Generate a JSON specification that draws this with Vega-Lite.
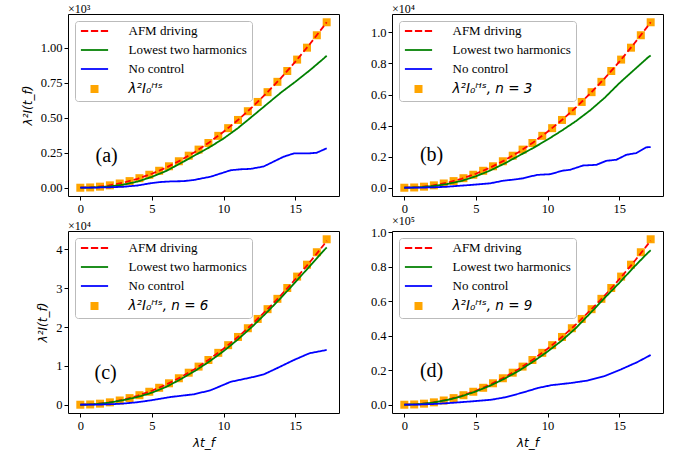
{
 "$schema": "https://vega.github.io/schema/vega-lite/v6.json",
 "background": "white",
 "padding": {"left": 20, "top": 2, "right": 5, "bottom": 5},
 "bounds": "flush",
 "columns": 2,
 "spacing": {"row": 35, "column": 53},
 "resolve": {"scale": {"color": "independent", "shape": "independent", "strokeDash": "independent"}, "legend": {"color": "independent", "shape": "independent", "strokeDash": "independent"}},
 "datasets": {
  "d": [
   {"p":"a","s":"HS","t":0,"v":0},{"p":"a","s":"HS","t":0.688,"v":1.89},{"p":"a","s":"HS","t":1.376,"v":7.57},{"p":"a","s":"HS","t":2.064,"v":17.04},{"p":"a","s":"HS","t":2.752,"v":30.29},{"p":"a","s":"HS","t":3.44,"v":47.33},{"p":"a","s":"HS","t":4.128,"v":68.16},{"p":"a","s":"HS","t":4.816,"v":92.78},{"p":"a","s":"HS","t":5.504,"v":121.18},{"p":"a","s":"HS","t":6.192,"v":153.36},{"p":"a","s":"HS","t":6.88,"v":189.34},{"p":"a","s":"HS","t":7.568,"v":229.1},{"p":"a","s":"HS","t":8.256,"v":272.65},{"p":"a","s":"HS","t":8.944,"v":319.98},{"p":"a","s":"HS","t":9.632,"v":371.1},{"p":"a","s":"HS","t":10.32,"v":426.01},{"p":"a","s":"HS","t":11.008,"v":484.7},{"p":"a","s":"HS","t":11.696,"v":547.19},{"p":"a","s":"HS","t":12.384,"v":613.45},{"p":"a","s":"HS","t":13.072,"v":683.51},{"p":"a","s":"HS","t":13.76,"v":757.35},{"p":"a","s":"HS","t":14.448,"v":834.98},{"p":"a","s":"HS","t":15.136,"v":916.39},{"p":"a","s":"HS","t":15.824,"v":1001.6},{"p":"a","s":"HS","t":16.512,"v":1090.58},{"p":"a","s":"HS","t":17.2,"v":1183.36},
   {"p":"a","s":"AFM driving","t":0,"v":0},{"p":"a","s":"AFM driving","t":1,"v":4},{"p":"a","s":"AFM driving","t":2,"v":16},{"p":"a","s":"AFM driving","t":3,"v":36},{"p":"a","s":"AFM driving","t":4,"v":64},{"p":"a","s":"AFM driving","t":5,"v":100},{"p":"a","s":"AFM driving","t":6,"v":144},{"p":"a","s":"AFM driving","t":7,"v":196},{"p":"a","s":"AFM driving","t":8,"v":256},{"p":"a","s":"AFM driving","t":9,"v":324},{"p":"a","s":"AFM driving","t":10,"v":400},{"p":"a","s":"AFM driving","t":11,"v":484},{"p":"a","s":"AFM driving","t":12,"v":576},{"p":"a","s":"AFM driving","t":13,"v":676},{"p":"a","s":"AFM driving","t":14,"v":784},{"p":"a","s":"AFM driving","t":15,"v":900},{"p":"a","s":"AFM driving","t":16,"v":1024},{"p":"a","s":"AFM driving","t":17,"v":1156},{"p":"a","s":"AFM driving","t":17.2,"v":1183.4},
   {"p":"a","s":"Lowest two harmonics","t":0,"v":0},{"p":"a","s":"Lowest two harmonics","t":1,"v":2},{"p":"a","s":"Lowest two harmonics","t":2,"v":9},{"p":"a","s":"Lowest two harmonics","t":3,"v":22},{"p":"a","s":"Lowest two harmonics","t":4,"v":44},{"p":"a","s":"Lowest two harmonics","t":5,"v":78},{"p":"a","s":"Lowest two harmonics","t":6,"v":120},{"p":"a","s":"Lowest two harmonics","t":7,"v":175},{"p":"a","s":"Lowest two harmonics","t":8,"v":232},{"p":"a","s":"Lowest two harmonics","t":9,"v":288},{"p":"a","s":"Lowest two harmonics","t":10,"v":352},{"p":"a","s":"Lowest two harmonics","t":11,"v":426},{"p":"a","s":"Lowest two harmonics","t":12,"v":510},{"p":"a","s":"Lowest two harmonics","t":13,"v":595},{"p":"a","s":"Lowest two harmonics","t":14,"v":680},{"p":"a","s":"Lowest two harmonics","t":15,"v":757},{"p":"a","s":"Lowest two harmonics","t":16,"v":838},{"p":"a","s":"Lowest two harmonics","t":17,"v":925},{"p":"a","s":"Lowest two harmonics","t":17.2,"v":944},
   {"p":"a","s":"No control","t":0,"v":0},{"p":"a","s":"No control","t":1,"v":1},{"p":"a","s":"No control","t":2,"v":3},{"p":"a","s":"No control","t":3,"v":7},{"p":"a","s":"No control","t":4,"v":16},{"p":"a","s":"No control","t":4.9,"v":32},{"p":"a","s":"No control","t":5.5,"v":40},{"p":"a","s":"No control","t":6.3,"v":45},{"p":"a","s":"No control","t":7.2,"v":47},{"p":"a","s":"No control","t":7.9,"v":55},{"p":"a","s":"No control","t":9.1,"v":79},{"p":"a","s":"No control","t":10.5,"v":125},{"p":"a","s":"No control","t":11.2,"v":132},{"p":"a","s":"No control","t":11.9,"v":135},{"p":"a","s":"No control","t":12.8,"v":152},{"p":"a","s":"No control","t":14.2,"v":222},{"p":"a","s":"No control","t":14.9,"v":245},{"p":"a","s":"No control","t":16.0,"v":246},{"p":"a","s":"No control","t":16.5,"v":250},{"p":"a","s":"No control","t":17.2,"v":282},

   {"p":"b","s":"HS","t":0,"v":0},{"p":"b","s":"HS","t":0.688,"v":17.0},{"p":"b","s":"HS","t":1.376,"v":68.2},{"p":"b","s":"HS","t":2.064,"v":153.4},{"p":"b","s":"HS","t":2.752,"v":272.6},{"p":"b","s":"HS","t":3.44,"v":426.0},{"p":"b","s":"HS","t":4.128,"v":613.5},{"p":"b","s":"HS","t":4.816,"v":835.0},{"p":"b","s":"HS","t":5.504,"v":1090.6},{"p":"b","s":"HS","t":6.192,"v":1380.3},{"p":"b","s":"HS","t":6.88,"v":1704.0},{"p":"b","s":"HS","t":7.568,"v":2061.9},{"p":"b","s":"HS","t":8.256,"v":2453.8},{"p":"b","s":"HS","t":8.944,"v":2879.8},{"p":"b","s":"HS","t":9.632,"v":3339.9},{"p":"b","s":"HS","t":10.32,"v":3834.1},{"p":"b","s":"HS","t":11.008,"v":4362.3},{"p":"b","s":"HS","t":11.696,"v":4924.7},{"p":"b","s":"HS","t":12.384,"v":5521.1},{"p":"b","s":"HS","t":13.072,"v":6151.6},{"p":"b","s":"HS","t":13.76,"v":6816.2},{"p":"b","s":"HS","t":14.448,"v":7514.8},{"p":"b","s":"HS","t":15.136,"v":8247.5},{"p":"b","s":"HS","t":15.824,"v":9014.4},{"p":"b","s":"HS","t":16.512,"v":9815.3},{"p":"b","s":"HS","t":17.2,"v":10650.2},
   {"p":"b","s":"AFM driving","t":0,"v":0},{"p":"b","s":"AFM driving","t":1,"v":36},{"p":"b","s":"AFM driving","t":2,"v":144},{"p":"b","s":"AFM driving","t":3,"v":324},{"p":"b","s":"AFM driving","t":4,"v":576},{"p":"b","s":"AFM driving","t":5,"v":900},{"p":"b","s":"AFM driving","t":6,"v":1296},{"p":"b","s":"AFM driving","t":7,"v":1764},{"p":"b","s":"AFM driving","t":8,"v":2304},{"p":"b","s":"AFM driving","t":9,"v":2916},{"p":"b","s":"AFM driving","t":10,"v":3600},{"p":"b","s":"AFM driving","t":11,"v":4356},{"p":"b","s":"AFM driving","t":12,"v":5184},{"p":"b","s":"AFM driving","t":13,"v":6084},{"p":"b","s":"AFM driving","t":14,"v":7056},{"p":"b","s":"AFM driving","t":15,"v":8100},{"p":"b","s":"AFM driving","t":16,"v":9216},{"p":"b","s":"AFM driving","t":17,"v":10404},{"p":"b","s":"AFM driving","t":17.2,"v":10650},
   {"p":"b","s":"Lowest two harmonics","t":0,"v":0},{"p":"b","s":"Lowest two harmonics","t":1,"v":25},{"p":"b","s":"Lowest two harmonics","t":2,"v":105},{"p":"b","s":"Lowest two harmonics","t":3,"v":240},{"p":"b","s":"Lowest two harmonics","t":4,"v":440},{"p":"b","s":"Lowest two harmonics","t":5,"v":740},{"p":"b","s":"Lowest two harmonics","t":6,"v":1110},{"p":"b","s":"Lowest two harmonics","t":7,"v":1560},{"p":"b","s":"Lowest two harmonics","t":8,"v":2060},{"p":"b","s":"Lowest two harmonics","t":9,"v":2560},{"p":"b","s":"Lowest two harmonics","t":10,"v":3100},{"p":"b","s":"Lowest two harmonics","t":11,"v":3680},{"p":"b","s":"Lowest two harmonics","t":12,"v":4300},{"p":"b","s":"Lowest two harmonics","t":13,"v":5000},{"p":"b","s":"Lowest two harmonics","t":14,"v":5800},{"p":"b","s":"Lowest two harmonics","t":15,"v":6720},{"p":"b","s":"Lowest two harmonics","t":16,"v":7550},{"p":"b","s":"Lowest two harmonics","t":17,"v":8380},{"p":"b","s":"Lowest two harmonics","t":17.2,"v":8510},
   {"p":"b","s":"No control","t":0,"v":0},{"p":"b","s":"No control","t":1,"v":5},{"p":"b","s":"No control","t":2,"v":25},{"p":"b","s":"No control","t":3,"v":65},{"p":"b","s":"No control","t":3.6,"v":110},{"p":"b","s":"No control","t":4.6,"v":175},{"p":"b","s":"No control","t":6.0,"v":284},{"p":"b","s":"No control","t":6.93,"v":455},{"p":"b","s":"No control","t":7.6,"v":520},{"p":"b","s":"No control","t":8.32,"v":610},{"p":"b","s":"No control","t":9.25,"v":825},{"p":"b","s":"No control","t":10.17,"v":870},{"p":"b","s":"No control","t":11.09,"v":1105},{"p":"b","s":"No control","t":11.56,"v":1150},{"p":"b","s":"No control","t":12.48,"v":1430},{"p":"b","s":"No control","t":13.41,"v":1475},{"p":"b","s":"No control","t":14.11,"v":1735},{"p":"b","s":"No control","t":14.8,"v":1800},{"p":"b","s":"No control","t":15.5,"v":2120},{"p":"b","s":"No control","t":16.19,"v":2230},{"p":"b","s":"No control","t":16.88,"v":2600},{"p":"b","s":"No control","t":17.2,"v":2620},

   {"p":"c","s":"HS","t":0,"v":0},{"p":"c","s":"HS","t":0.688,"v":68.2},{"p":"c","s":"HS","t":1.376,"v":272.7},{"p":"c","s":"HS","t":2.064,"v":613.5},{"p":"c","s":"HS","t":2.752,"v":1090.6},{"p":"c","s":"HS","t":3.44,"v":1704.0},{"p":"c","s":"HS","t":4.128,"v":2453.8},{"p":"c","s":"HS","t":4.816,"v":3339.9},{"p":"c","s":"HS","t":5.504,"v":4362.3},{"p":"c","s":"HS","t":6.192,"v":5521.1},{"p":"c","s":"HS","t":6.88,"v":6816.2},{"p":"c","s":"HS","t":7.568,"v":8247.5},{"p":"c","s":"HS","t":8.256,"v":9815.3},{"p":"c","s":"HS","t":8.944,"v":11519.3},{"p":"c","s":"HS","t":9.632,"v":13359.7},{"p":"c","s":"HS","t":10.32,"v":15336.3},{"p":"c","s":"HS","t":11.008,"v":17449.4},{"p":"c","s":"HS","t":11.696,"v":19698.7},{"p":"c","s":"HS","t":12.384,"v":22084.3},{"p":"c","s":"HS","t":13.072,"v":24606.3},{"p":"c","s":"HS","t":13.76,"v":27264.6},{"p":"c","s":"HS","t":14.448,"v":30059.2},{"p":"c","s":"HS","t":15.136,"v":32990.2},{"p":"c","s":"HS","t":15.824,"v":36057.5},{"p":"c","s":"HS","t":16.512,"v":39261.0},{"p":"c","s":"HS","t":17.2,"v":42601.0},
   {"p":"c","s":"AFM driving","t":0,"v":0},{"p":"c","s":"AFM driving","t":1,"v":144},{"p":"c","s":"AFM driving","t":2,"v":576},{"p":"c","s":"AFM driving","t":3,"v":1296},{"p":"c","s":"AFM driving","t":4,"v":2304},{"p":"c","s":"AFM driving","t":5,"v":3600},{"p":"c","s":"AFM driving","t":6,"v":5184},{"p":"c","s":"AFM driving","t":7,"v":7056},{"p":"c","s":"AFM driving","t":8,"v":9216},{"p":"c","s":"AFM driving","t":9,"v":11664},{"p":"c","s":"AFM driving","t":10,"v":14400},{"p":"c","s":"AFM driving","t":11,"v":17424},{"p":"c","s":"AFM driving","t":12,"v":20736},{"p":"c","s":"AFM driving","t":13,"v":24336},{"p":"c","s":"AFM driving","t":14,"v":28150},{"p":"c","s":"AFM driving","t":15,"v":32250},{"p":"c","s":"AFM driving","t":16,"v":36600},{"p":"c","s":"AFM driving","t":17,"v":41200},{"p":"c","s":"AFM driving","t":17.2,"v":42200},
   {"p":"c","s":"Lowest two harmonics","t":0,"v":0},{"p":"c","s":"Lowest two harmonics","t":1,"v":120},{"p":"c","s":"Lowest two harmonics","t":2,"v":520},{"p":"c","s":"Lowest two harmonics","t":3,"v":1180},{"p":"c","s":"Lowest two harmonics","t":4,"v":2000},{"p":"c","s":"Lowest two harmonics","t":5,"v":3100},{"p":"c","s":"Lowest two harmonics","t":6,"v":4600},{"p":"c","s":"Lowest two harmonics","t":7,"v":6550},{"p":"c","s":"Lowest two harmonics","t":8,"v":8700},{"p":"c","s":"Lowest two harmonics","t":9,"v":11100},{"p":"c","s":"Lowest two harmonics","t":10,"v":13800},{"p":"c","s":"Lowest two harmonics","t":11,"v":16800},{"p":"c","s":"Lowest two harmonics","t":12,"v":20100},{"p":"c","s":"Lowest two harmonics","t":13,"v":23700},{"p":"c","s":"Lowest two harmonics","t":14,"v":27500},{"p":"c","s":"Lowest two harmonics","t":15,"v":31500},{"p":"c","s":"Lowest two harmonics","t":16,"v":35600},{"p":"c","s":"Lowest two harmonics","t":17,"v":39700},{"p":"c","s":"Lowest two harmonics","t":17.2,"v":40500},
   {"p":"c","s":"No control","t":0,"v":0},{"p":"c","s":"No control","t":1,"v":20},{"p":"c","s":"No control","t":2,"v":100},{"p":"c","s":"No control","t":3,"v":300},{"p":"c","s":"No control","t":4,"v":650},{"p":"c","s":"No control","t":4.94,"v":1140},{"p":"c","s":"No control","t":6.33,"v":2000},{"p":"c","s":"No control","t":7.95,"v":2700},{"p":"c","s":"No control","t":9.1,"v":3730},{"p":"c","s":"No control","t":10.5,"v":5900},{"p":"c","s":"No control","t":11.9,"v":7000},{"p":"c","s":"No control","t":12.8,"v":7800},{"p":"c","s":"No control","t":13.7,"v":9350},{"p":"c","s":"No control","t":14.9,"v":11500},{"p":"c","s":"No control","t":16.0,"v":13250},{"p":"c","s":"No control","t":17.2,"v":14100},

   {"p":"d","s":"HS","t":0,"v":0},{"p":"d","s":"HS","t":0.688,"v":153.4},{"p":"d","s":"HS","t":1.376,"v":613.5},{"p":"d","s":"HS","t":2.064,"v":1380.3},{"p":"d","s":"HS","t":2.752,"v":2453.8},{"p":"d","s":"HS","t":3.44,"v":3834.1},{"p":"d","s":"HS","t":4.128,"v":5521.1},{"p":"d","s":"HS","t":4.816,"v":7514.8},{"p":"d","s":"HS","t":5.504,"v":9815.3},{"p":"d","s":"HS","t":6.192,"v":12422.5},{"p":"d","s":"HS","t":6.88,"v":15336.3},{"p":"d","s":"HS","t":7.568,"v":18556.9},{"p":"d","s":"HS","t":8.256,"v":22084.3},{"p":"d","s":"HS","t":8.944,"v":25918.4},{"p":"d","s":"HS","t":9.632,"v":30059.2},{"p":"d","s":"HS","t":10.32,"v":34506.8},{"p":"d","s":"HS","t":11.008,"v":39261.1},{"p":"d","s":"HS","t":11.696,"v":44322.0},{"p":"d","s":"HS","t":12.384,"v":49689.8},{"p":"d","s":"HS","t":13.072,"v":55364.2},{"p":"d","s":"HS","t":13.76,"v":61345.4},{"p":"d","s":"HS","t":14.448,"v":67633.3},{"p":"d","s":"HS","t":15.136,"v":74227.9},{"p":"d","s":"HS","t":15.824,"v":81129.3},{"p":"d","s":"HS","t":16.512,"v":88337.3},{"p":"d","s":"HS","t":17.2,"v":95852.2},
   {"p":"d","s":"AFM driving","t":0,"v":0},{"p":"d","s":"AFM driving","t":1,"v":324},{"p":"d","s":"AFM driving","t":2,"v":1296},{"p":"d","s":"AFM driving","t":3,"v":2916},{"p":"d","s":"AFM driving","t":4,"v":5184},{"p":"d","s":"AFM driving","t":5,"v":8100},{"p":"d","s":"AFM driving","t":6,"v":11664},{"p":"d","s":"AFM driving","t":7,"v":15876},{"p":"d","s":"AFM driving","t":8,"v":20736},{"p":"d","s":"AFM driving","t":9,"v":26244},{"p":"d","s":"AFM driving","t":10,"v":32400},{"p":"d","s":"AFM driving","t":11,"v":39204},{"p":"d","s":"AFM driving","t":12,"v":46656},{"p":"d","s":"AFM driving","t":13,"v":54756},{"p":"d","s":"AFM driving","t":14,"v":63300},{"p":"d","s":"AFM driving","t":15,"v":72600},{"p":"d","s":"AFM driving","t":16,"v":82400},{"p":"d","s":"AFM driving","t":17,"v":92900},{"p":"d","s":"AFM driving","t":17.2,"v":95000},
   {"p":"d","s":"Lowest two harmonics","t":0,"v":0},{"p":"d","s":"Lowest two harmonics","t":1,"v":300},{"p":"d","s":"Lowest two harmonics","t":2,"v":1230},{"p":"d","s":"Lowest two harmonics","t":3,"v":2770},{"p":"d","s":"Lowest two harmonics","t":4,"v":4920},{"p":"d","s":"Lowest two harmonics","t":5,"v":7700},{"p":"d","s":"Lowest two harmonics","t":6,"v":11100},{"p":"d","s":"Lowest two harmonics","t":7,"v":15100},{"p":"d","s":"Lowest two harmonics","t":8,"v":19700},{"p":"d","s":"Lowest two harmonics","t":9,"v":25000},{"p":"d","s":"Lowest two harmonics","t":10,"v":30800},{"p":"d","s":"Lowest two harmonics","t":11,"v":37200},{"p":"d","s":"Lowest two harmonics","t":12,"v":44600},{"p":"d","s":"Lowest two harmonics","t":13,"v":53200},{"p":"d","s":"Lowest two harmonics","t":14,"v":62000},{"p":"d","s":"Lowest two harmonics","t":15,"v":70500},{"p":"d","s":"Lowest two harmonics","t":16,"v":79500},{"p":"d","s":"Lowest two harmonics","t":17,"v":88000},{"p":"d","s":"Lowest two harmonics","t":17.2,"v":89500},
   {"p":"d","s":"No control","t":0,"v":0},{"p":"d","s":"No control","t":1,"v":100},{"p":"d","s":"No control","t":2,"v":400},{"p":"d","s":"No control","t":3,"v":900},{"p":"d","s":"No control","t":4,"v":1500},{"p":"d","s":"No control","t":4.69,"v":1930},{"p":"d","s":"No control","t":6.08,"v":2900},{"p":"d","s":"No control","t":7.01,"v":4260},{"p":"d","s":"No control","t":8.17,"v":6800},{"p":"d","s":"No control","t":9.33,"v":9700},{"p":"d","s":"No control","t":10.25,"v":11300},{"p":"d","s":"No control","t":11.64,"v":12600},{"p":"d","s":"No control","t":12.8,"v":14000},{"p":"d","s":"No control","t":13.95,"v":16500},{"p":"d","s":"No control","t":15.11,"v":20400},{"p":"d","s":"No control","t":16.27,"v":24700},{"p":"d","s":"No control","t":17.2,"v":28800}
  ]
 },
 "data": {"name": "d"},
 "concat": [
  {
   "width": 271, "height": 182,
   "title": {"text": "×10³"},
   "transform": [{"filter": "datum.p == 'a'"}],
   "layer": [
    {"transform": [{"filter": "datum.s == 'HS'"}],
     "mark": {"type": "point", "filled": true, "opacity": 1, "size": 64, "strokeWidth": 0},
     "encoding": {
      "x": {"field": "t", "type": "quantitative", "scale": {"domain": [-0.86, 18.06], "nice": false, "zero": false}, "axis": {"values": [0, 5, 10, 15], "tickCount": 10, "title": null}},
      "y": {"field": "v", "type": "quantitative", "scale": {"domain": [-59.2, 1242.5], "nice": false, "zero": false}, "axis": {"values": [0, 250, 500, 750, 1000], "tickCount": 10, "labelExpr": "format(datum.value/1000, '.2f')", "title": "λ²I(t_f)"}},
      "color": {"field": "s", "type": "nominal", "scale": {"domain": ["AFM driving", "Lowest two harmonics", "No control", "HS"], "range": ["#ff0000", "#008000", "#0000ff", "#ffa500"]},
       "legend": {"title": null, "orient": "top-left", "labelExpr": "datum.label == 'HS' ? 'λ²I₀ᴴˢ' : datum.label", "encoding": {"labels": {"font": {"condition": {"test": "datum.value == 'HS'", "value": "DejaVu Sans"}, "value": "Liberation Serif"}, "fontStyle": {"condition": {"test": "datum.value == 'HS'", "value": "italic"}, "value": "normal"}, "fontSize": {"condition": {"test": "datum.value == 'HS'", "value": 13.5}, "value": 13}}}}},
      "shape": {"field": "s", "type": "nominal", "scale": {"domain": ["AFM driving", "Lowest two harmonics", "No control", "HS"], "range": ["M-3.4,-0.22H-1.57V0.22H-3.4Z M-0.9,-0.22H0.92V0.22H-0.9Z M1.58,-0.22H3.4V0.22H1.58Z", "M-3.4,-0.22H3.4V0.22H-3.4Z", "M-3.4,-0.22H3.4V0.22H-3.4Z", "square"]},
       "legend": {"title": null, "orient": "top-left", "labelExpr": "datum.label == 'HS' ? 'λ²I₀ᴴˢ' : datum.label", "encoding": {"labels": {"font": {"condition": {"test": "datum.value == 'HS'", "value": "DejaVu Sans"}, "value": "Liberation Serif"}, "fontStyle": {"condition": {"test": "datum.value == 'HS'", "value": "italic"}, "value": "normal"}, "fontSize": {"condition": {"test": "datum.value == 'HS'", "value": 13.5}, "value": 13}}}}}
     }},
    {"transform": [{"filter": "datum.s != 'HS'"}],
     "mark": {"type": "line", "strokeWidth": 1.8},
     "encoding": {
      "x": {"field": "t", "type": "quantitative"},
      "y": {"field": "v", "type": "quantitative"},
      "color": {"field": "s", "type": "nominal", "legend": null},
      "strokeDash": {"field": "s", "type": "nominal", "scale": {"domain": ["AFM driving", "Lowest two harmonics", "No control"], "range": [[6, 3], [1, 0], [1, 0]]}, "legend": null}
     }},
    {"data": {"values": [{"label": "(a)"}]},
     "mark": {"type": "text", "font": "Liberation Serif", "fontSize": 20, "color": "black", "align": "center", "baseline": "middle"},
     "encoding": {"x": {"datum": 1.84, "type": "quantitative"}, "y": {"datum": 229, "type": "quantitative"}, "text": {"field": "label"}}}
   ]
  },
  {
   "width": 271, "height": 182,
   "title": {"text": "×10⁴"},
   "transform": [{"filter": "datum.p == 'b'"}],
   "layer": [
    {"transform": [{"filter": "datum.s == 'HS'"}],
     "mark": {"type": "point", "filled": true, "opacity": 1, "size": 64, "strokeWidth": 0},
     "encoding": {
      "x": {"field": "t", "type": "quantitative", "scale": {"domain": [-0.86, 18.06], "nice": false, "zero": false}, "axis": {"values": [0, 5, 10, 15], "tickCount": 10, "title": null}},
      "y": {"field": "v", "type": "quantitative", "scale": {"domain": [-532.5, 11182.8], "nice": false, "zero": false}, "axis": {"values": [0, 2000, 4000, 6000, 8000, 10000], "tickCount": 10, "labelExpr": "format(datum.value/10000, '.1f')", "title": null}},
      "color": {"field": "s", "type": "nominal", "scale": {"domain": ["AFM driving", "Lowest two harmonics", "No control", "HS"], "range": ["#ff0000", "#008000", "#0000ff", "#ffa500"]},
       "legend": {"title": null, "orient": "top-left", "labelExpr": "datum.label == 'HS' ? 'λ²I₀ᴴˢ, n = 3' : datum.label", "encoding": {"labels": {"font": {"condition": {"test": "datum.value == 'HS'", "value": "DejaVu Sans"}, "value": "Liberation Serif"}, "fontStyle": {"condition": {"test": "datum.value == 'HS'", "value": "italic"}, "value": "normal"}, "fontSize": {"condition": {"test": "datum.value == 'HS'", "value": 13.5}, "value": 13}}}}},
      "shape": {"field": "s", "type": "nominal", "scale": {"domain": ["AFM driving", "Lowest two harmonics", "No control", "HS"], "range": ["M-3.4,-0.22H-1.57V0.22H-3.4Z M-0.9,-0.22H0.92V0.22H-0.9Z M1.58,-0.22H3.4V0.22H1.58Z", "M-3.4,-0.22H3.4V0.22H-3.4Z", "M-3.4,-0.22H3.4V0.22H-3.4Z", "square"]},
       "legend": {"title": null, "orient": "top-left", "labelExpr": "datum.label == 'HS' ? 'λ²I₀ᴴˢ, n = 3' : datum.label", "encoding": {"labels": {"font": {"condition": {"test": "datum.value == 'HS'", "value": "DejaVu Sans"}, "value": "Liberation Serif"}, "fontStyle": {"condition": {"test": "datum.value == 'HS'", "value": "italic"}, "value": "normal"}, "fontSize": {"condition": {"test": "datum.value == 'HS'", "value": 13.5}, "value": 13}}}}}
     }},
    {"transform": [{"filter": "datum.s != 'HS'"}],
     "mark": {"type": "line", "strokeWidth": 1.8},
     "encoding": {
      "x": {"field": "t", "type": "quantitative"},
      "y": {"field": "v", "type": "quantitative"},
      "color": {"field": "s", "type": "nominal", "legend": null},
      "strokeDash": {"field": "s", "type": "nominal", "scale": {"domain": ["AFM driving", "Lowest two harmonics", "No control"], "range": [[6, 3], [1, 0], [1, 0]]}, "legend": null}
     }},
    {"data": {"values": [{"label": "(b)"}]},
     "mark": {"type": "text", "font": "Liberation Serif", "fontSize": 20, "color": "black", "align": "center", "baseline": "middle"},
     "encoding": {"x": {"datum": 1.9, "type": "quantitative"}, "y": {"datum": 2100, "type": "quantitative"}, "text": {"field": "label"}}}
   ]
  },
  {
   "width": 271, "height": 182,
   "title": {"text": "×10⁴"},
   "transform": [{"filter": "datum.p == 'c'"}],
   "layer": [
    {"transform": [{"filter": "datum.s == 'HS'"}],
     "mark": {"type": "point", "filled": true, "opacity": 1, "size": 64, "strokeWidth": 0},
     "encoding": {
      "x": {"field": "t", "type": "quantitative", "scale": {"domain": [-0.86, 18.06], "nice": false, "zero": false}, "axis": {"values": [0, 5, 10, 15], "tickCount": 10, "title": "λt_f"}},
      "y": {"field": "v", "type": "quantitative", "scale": {"domain": [-2130, 44731], "nice": false, "zero": false}, "axis": {"values": [0, 10000, 20000, 30000, 40000], "tickCount": 10, "labelExpr": "format(datum.value/10000, 'd')", "title": "λ²I(t_f)"}},
      "color": {"field": "s", "type": "nominal", "scale": {"domain": ["AFM driving", "Lowest two harmonics", "No control", "HS"], "range": ["#ff0000", "#008000", "#0000ff", "#ffa500"]},
       "legend": {"title": null, "orient": "top-left", "labelExpr": "datum.label == 'HS' ? 'λ²I₀ᴴˢ, n = 6' : datum.label", "encoding": {"labels": {"font": {"condition": {"test": "datum.value == 'HS'", "value": "DejaVu Sans"}, "value": "Liberation Serif"}, "fontStyle": {"condition": {"test": "datum.value == 'HS'", "value": "italic"}, "value": "normal"}, "fontSize": {"condition": {"test": "datum.value == 'HS'", "value": 13.5}, "value": 13}}}}},
      "shape": {"field": "s", "type": "nominal", "scale": {"domain": ["AFM driving", "Lowest two harmonics", "No control", "HS"], "range": ["M-3.4,-0.22H-1.57V0.22H-3.4Z M-0.9,-0.22H0.92V0.22H-0.9Z M1.58,-0.22H3.4V0.22H1.58Z", "M-3.4,-0.22H3.4V0.22H-3.4Z", "M-3.4,-0.22H3.4V0.22H-3.4Z", "square"]},
       "legend": {"title": null, "orient": "top-left", "labelExpr": "datum.label == 'HS' ? 'λ²I₀ᴴˢ, n = 6' : datum.label", "encoding": {"labels": {"font": {"condition": {"test": "datum.value == 'HS'", "value": "DejaVu Sans"}, "value": "Liberation Serif"}, "fontStyle": {"condition": {"test": "datum.value == 'HS'", "value": "italic"}, "value": "normal"}, "fontSize": {"condition": {"test": "datum.value == 'HS'", "value": 13.5}, "value": 13}}}}}
     }},
    {"transform": [{"filter": "datum.s != 'HS'"}],
     "mark": {"type": "line", "strokeWidth": 1.8},
     "encoding": {
      "x": {"field": "t", "type": "quantitative"},
      "y": {"field": "v", "type": "quantitative"},
      "color": {"field": "s", "type": "nominal", "legend": null},
      "strokeDash": {"field": "s", "type": "nominal", "scale": {"domain": ["AFM driving", "Lowest two harmonics", "No control"], "range": [[6, 3], [1, 0], [1, 0]]}, "legend": null}
     }},
    {"data": {"values": [{"label": "(c)"}]},
     "mark": {"type": "text", "font": "Liberation Serif", "fontSize": 20, "color": "black", "align": "center", "baseline": "middle"},
     "encoding": {"x": {"datum": 1.77, "type": "quantitative"}, "y": {"datum": 8050, "type": "quantitative"}, "text": {"field": "label"}}}
   ]
  },
  {
   "width": 271, "height": 182,
   "title": {"text": "×10⁵"},
   "transform": [{"filter": "datum.p == 'd'"}],
   "layer": [
    {"transform": [{"filter": "datum.s == 'HS'"}],
     "mark": {"type": "point", "filled": true, "opacity": 1, "size": 64, "strokeWidth": 0},
     "encoding": {
      "x": {"field": "t", "type": "quantitative", "scale": {"domain": [-0.86, 18.06], "nice": false, "zero": false}, "axis": {"values": [0, 5, 10, 15], "tickCount": 10, "title": "λt_f"}},
      "y": {"field": "v", "type": "quantitative", "scale": {"domain": [-4792.6, 100644.8], "nice": false, "zero": false}, "axis": {"values": [0, 20000, 40000, 60000, 80000, 100000], "tickCount": 10, "labelExpr": "format(datum.value/100000, '.1f')", "title": null}},
      "color": {"field": "s", "type": "nominal", "scale": {"domain": ["AFM driving", "Lowest two harmonics", "No control", "HS"], "range": ["#ff0000", "#008000", "#0000ff", "#ffa500"]},
       "legend": {"title": null, "orient": "top-left", "labelExpr": "datum.label == 'HS' ? 'λ²I₀ᴴˢ, n = 9' : datum.label", "encoding": {"labels": {"font": {"condition": {"test": "datum.value == 'HS'", "value": "DejaVu Sans"}, "value": "Liberation Serif"}, "fontStyle": {"condition": {"test": "datum.value == 'HS'", "value": "italic"}, "value": "normal"}, "fontSize": {"condition": {"test": "datum.value == 'HS'", "value": 13.5}, "value": 13}}}}},
      "shape": {"field": "s", "type": "nominal", "scale": {"domain": ["AFM driving", "Lowest two harmonics", "No control", "HS"], "range": ["M-3.4,-0.22H-1.57V0.22H-3.4Z M-0.9,-0.22H0.92V0.22H-0.9Z M1.58,-0.22H3.4V0.22H1.58Z", "M-3.4,-0.22H3.4V0.22H-3.4Z", "M-3.4,-0.22H3.4V0.22H-3.4Z", "square"]},
       "legend": {"title": null, "orient": "top-left", "labelExpr": "datum.label == 'HS' ? 'λ²I₀ᴴˢ, n = 9' : datum.label", "encoding": {"labels": {"font": {"condition": {"test": "datum.value == 'HS'", "value": "DejaVu Sans"}, "value": "Liberation Serif"}, "fontStyle": {"condition": {"test": "datum.value == 'HS'", "value": "italic"}, "value": "normal"}, "fontSize": {"condition": {"test": "datum.value == 'HS'", "value": 13.5}, "value": 13}}}}}
     }},
    {"transform": [{"filter": "datum.s != 'HS'"}],
     "mark": {"type": "line", "strokeWidth": 1.8},
     "encoding": {
      "x": {"field": "t", "type": "quantitative"},
      "y": {"field": "v", "type": "quantitative"},
      "color": {"field": "s", "type": "nominal", "legend": null},
      "strokeDash": {"field": "s", "type": "nominal", "scale": {"domain": ["AFM driving", "Lowest two harmonics", "No control"], "range": [[6, 3], [1, 0], [1, 0]]}, "legend": null}
     }},
    {"data": {"values": [{"label": "(d)"}]},
     "mark": {"type": "text", "font": "Liberation Serif", "fontSize": 20, "color": "black", "align": "center", "baseline": "middle"},
     "encoding": {"x": {"datum": 1.9, "type": "quantitative"}, "y": {"datum": 19400, "type": "quantitative"}, "text": {"field": "label"}}}
   ]
  }
 ],
 "config": {
  "view": {"stroke": "black", "strokeWidth": 1},
  "axis": {"grid": false, "domain": false, "ticks": true, "tickColor": "black", "tickSize": 4, "tickWidth": 1, "labelFont": "Liberation Serif", "labelFontSize": 12.5, "labelColor": "black", "labelPadding": 2, "labelOverlap": false, "titleFont": "DejaVu Sans", "titleFontStyle": "italic", "titleFontWeight": "normal", "titleFontSize": 12, "titleColor": "black", "titlePadding": 6},
  "legend": {"padding": 5, "strokeColor": "#bbbbbb", "strokeWidth": 1, "fillColor": "rgba(255,255,255,0.8)", "cornerRadius": 3, "offset": 7, "labelFont": "Liberation Serif", "labelFontSize": 13, "labelColor": "black", "symbolSize": 64, "symbolStrokeWidth": 0, "symbolOffset": 9.5, "labelOffset": 29, "rowPadding": 6, "labelLimit": 300},
  "title": {"anchor": "start", "frame": "group", "offset": -2, "font": "Liberation Serif", "fontSize": 12, "fontWeight": "normal", "color": "black"}
 }
}
